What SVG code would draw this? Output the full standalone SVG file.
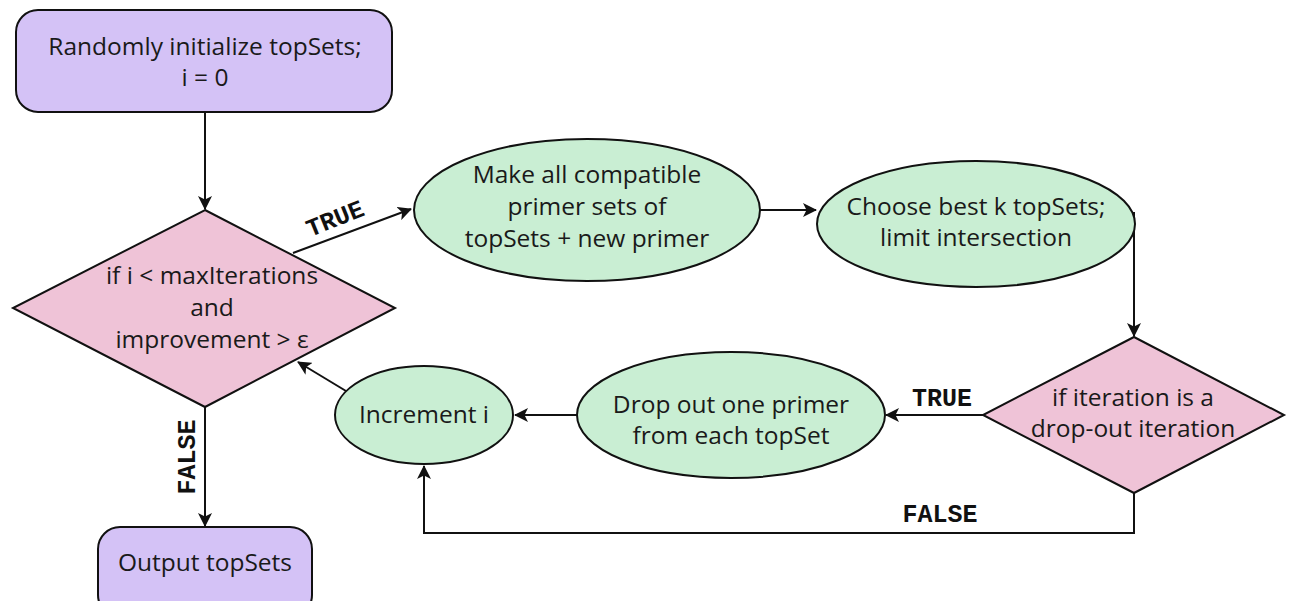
<svg xmlns="http://www.w3.org/2000/svg" width="1290" height="601" viewBox="0 0 1290 601">
  <style>
    .box { fill: #d4c2f6; stroke: #111; stroke-width: 2; }
    .dec { fill: #efc3d7; stroke: #111; stroke-width: 2; }
    .proc { fill: #c9eed3; stroke: #111; stroke-width: 2; }
    .lbl { font-family: "Open Sans", Lato, "Liberation Sans", sans-serif; font-size: 24.5px; fill: #1a1a1a; text-anchor: middle; }
    .cond { font-family: "Courier New", "Liberation Mono", monospace; font-size: 25px; font-weight: bold; fill: #111; text-anchor: middle; }
    .edge { fill: none; stroke: #111; stroke-width: 2; }
  </style>
  <defs>
    <marker id="arrow" viewBox="0 0 14 14" refX="13" refY="7" markerWidth="14" markerHeight="14" markerUnits="userSpaceOnUse" orient="auto">
      <path d="M0,0 L14,7 L0,14 L3.5,7 Z" fill="#111"/>
    </marker>
  </defs>
  <rect width="1290" height="601" fill="#fff"/>

  <!-- connectors -->
  <g id="connectors">
    <path class="edge" d="M205,112 V209" marker-end="url(#arrow)"/>
    <path class="edge" d="M293,253 L411,209" marker-end="url(#arrow)"/>
    <path class="edge" d="M760,210 H816" marker-end="url(#arrow)"/>
    <path class="edge" d="M1134,212 V336" marker-end="url(#arrow)"/>
    <path class="edge" d="M983,415 H886" marker-end="url(#arrow)"/>
    <path class="edge" d="M577,415 H515" marker-end="url(#arrow)"/>
    <path class="edge" d="M1134,493 V533 H424 V466" marker-end="url(#arrow)"/>
    <path class="edge" d="M346,391 L298,362" marker-end="url(#arrow)"/>
    <path class="edge" d="M205,407 V526" marker-end="url(#arrow)"/>
    <text class="cond" transform="translate(338,226) rotate(-22)">TRUE</text>
    <text class="cond" x="942" y="406">TRUE</text>
    <text class="cond" x="940" y="522">FALSE</text>
    <text class="cond" transform="translate(195,457) rotate(-90)">FALSE</text>
  </g>

  <g id="init">
    <rect class="box" x="16" y="10" width="376" height="102" rx="22"/>
    <text class="lbl" x="205" y="55">Randomly initialize topSets;</text>
    <text class="lbl" x="205" y="86">i = 0</text>
  </g>

  <g id="loop-check">
    <polygon class="dec" points="205,210 395,308 205,407 13,308"/>
    <text class="lbl" x="212" y="284">if i &lt; maxIterations</text>
    <text class="lbl" x="212" y="316">and</text>
    <text class="lbl" x="212" y="348">improvement &gt; ε</text>
  </g>

  <g id="make-sets">
    <ellipse class="proc" cx="587" cy="210" rx="173" ry="71"/>
    <text class="lbl" x="587" y="183">Make all compatible</text>
    <text class="lbl" x="587" y="215">primer sets of</text>
    <text class="lbl" x="587" y="247">topSets + new primer</text>
  </g>

  <g id="choose-best">
    <ellipse class="proc" cx="976" cy="224" rx="159" ry="63"/>
    <text class="lbl" x="976" y="215">Choose best k topSets;</text>
    <text class="lbl" x="976" y="246">limit intersection</text>
  </g>

  <g id="dropout-check">
    <polygon class="dec" points="1134,337 1284,415 1134,493 983,415"/>
    <text class="lbl" x="1133" y="406">if iteration is a</text>
    <text class="lbl" x="1133" y="437">drop-out iteration</text>
  </g>

  <g id="drop-out">
    <ellipse class="proc" cx="731" cy="415" rx="154" ry="63"/>
    <text class="lbl" x="731" y="413">Drop out one primer</text>
    <text class="lbl" x="731" y="444">from each topSet</text>
  </g>

  <g id="increment">
    <ellipse class="proc" cx="424" cy="415" rx="89" ry="49"/>
    <text class="lbl" x="424" y="423">Increment i</text>
  </g>

  <g id="output">
    <rect class="box" x="98" y="527" width="214" height="90" rx="22"/>
    <text class="lbl" x="205" y="571">Output topSets</text>
  </g>
</svg>
